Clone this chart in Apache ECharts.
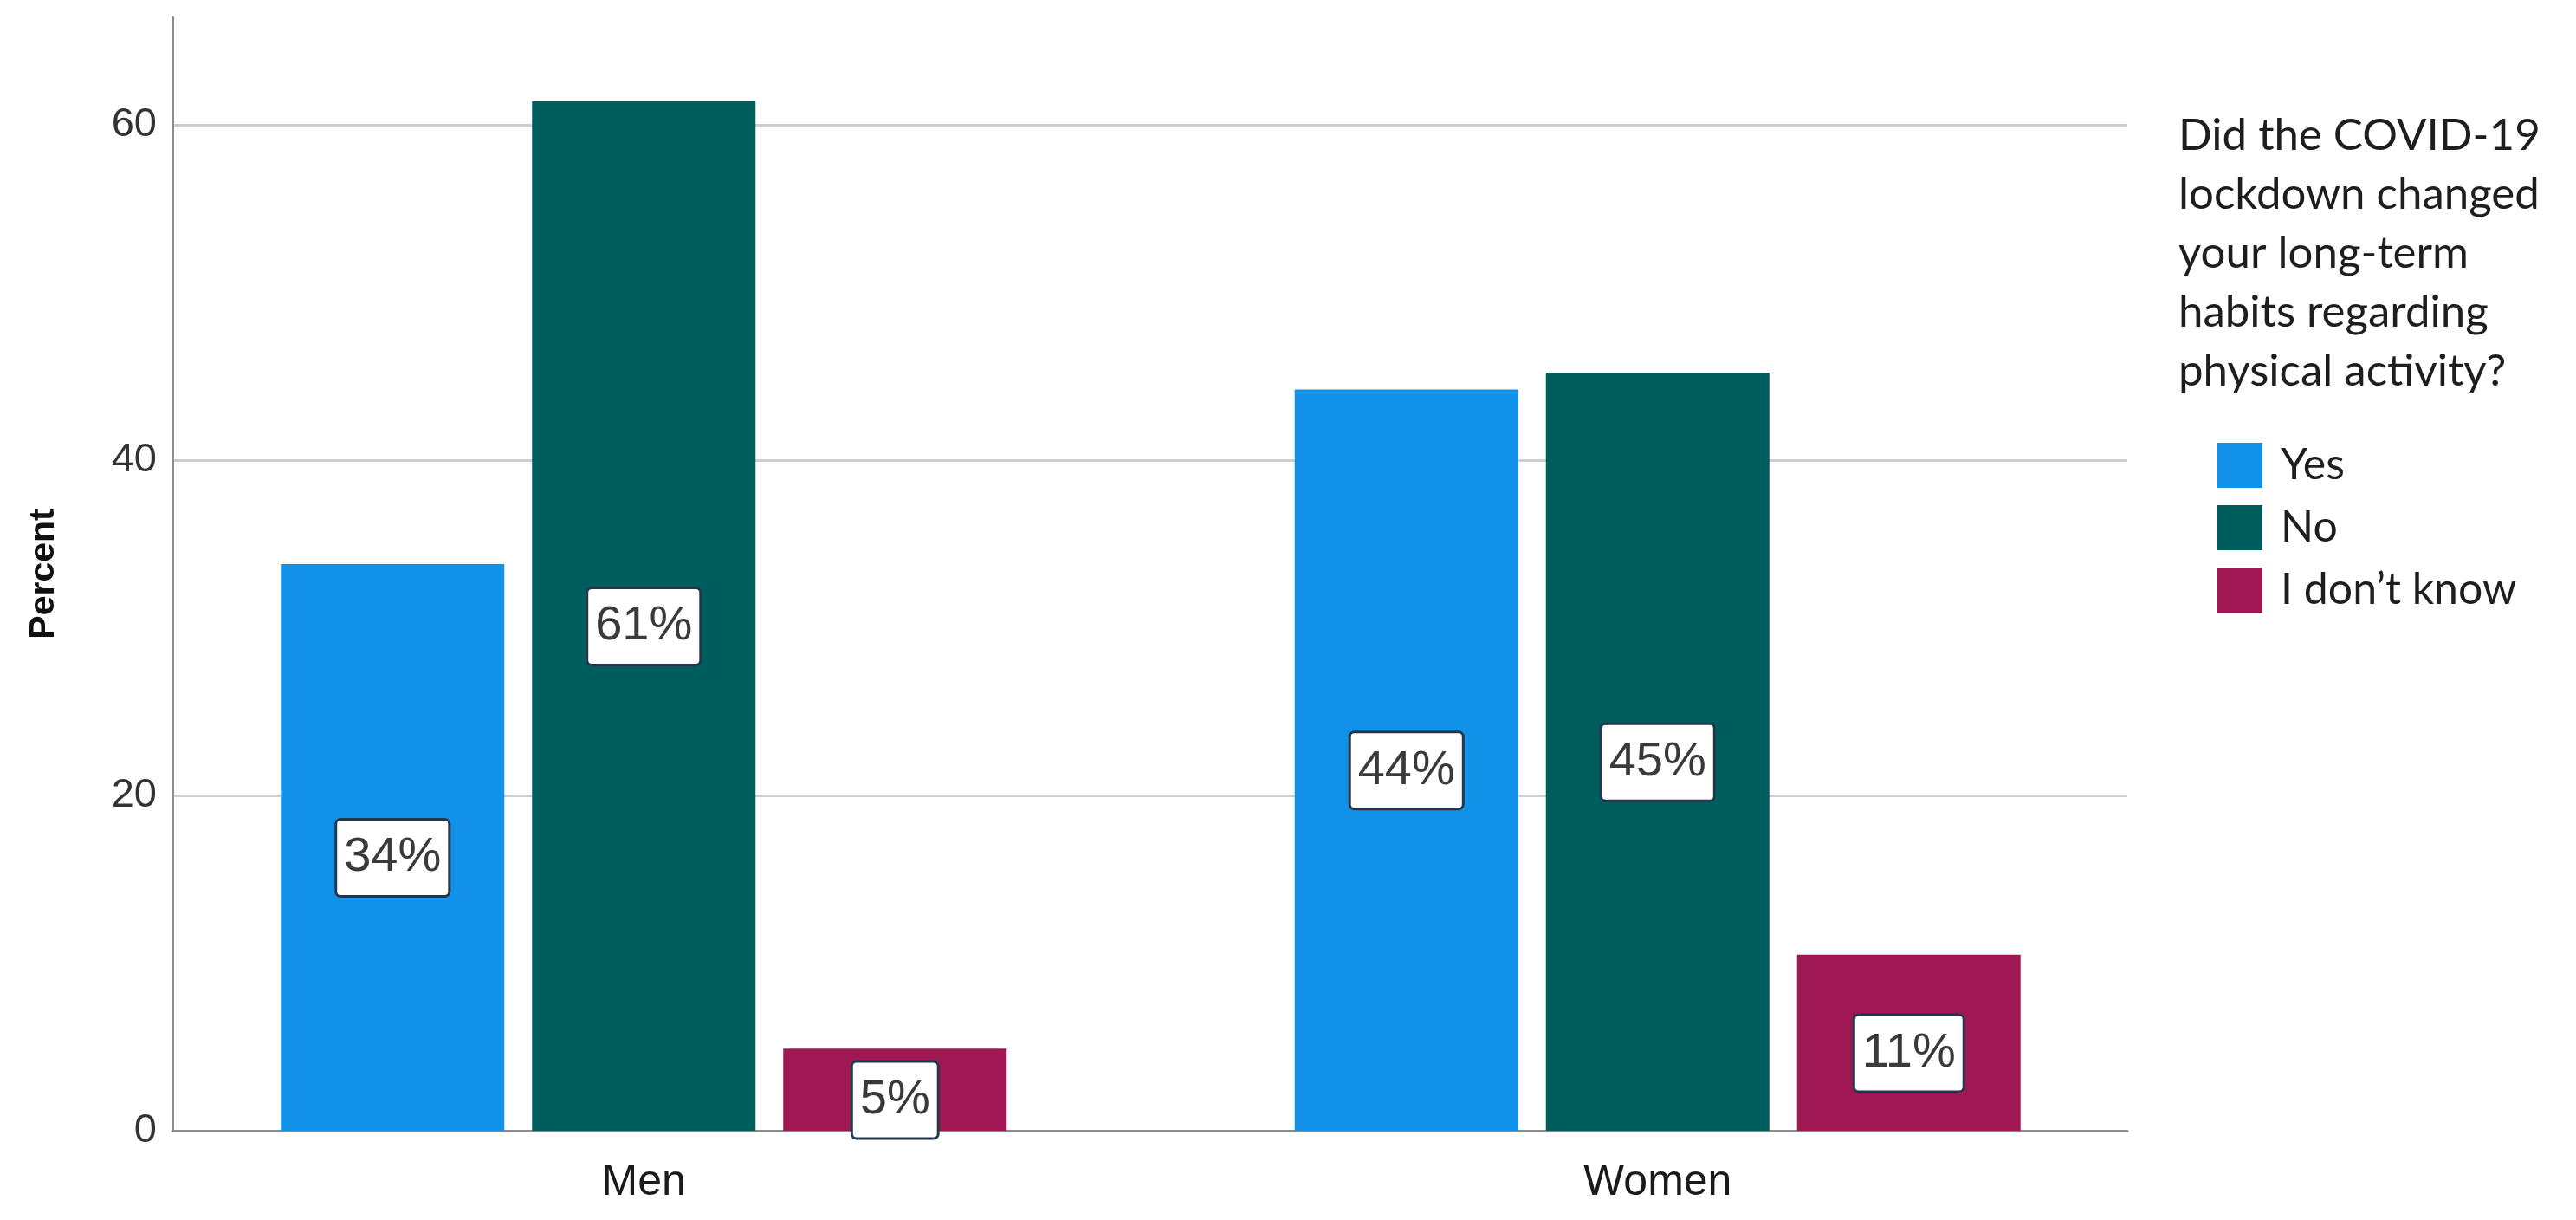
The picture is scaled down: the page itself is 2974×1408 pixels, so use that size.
<!DOCTYPE html>
<html>
<head>
<meta charset="utf-8">
<script src="https://cdn.jsdelivr.net/npm/echarts@6/dist/echarts.min.js"></script>
<style>
html,body{margin:0;padding:0;background:#fff;}
#chart{width:2974px;height:1408px;}
</style>
</head>
<body>
<div id="chart"></div>
<script>
// ---- data ----
const categories = ['Men', 'Women'];
const seriesNames = ['Yes', 'No', 'I don\u2019t know'];
const yesValues = [33.8, 44.2];
const noValues = [61.4, 45.2];
const dontKnowValues = [4.9, 10.5];
const yTicks = [0, 20, 40, 60];
const legendTitle = 'Did the COVID-19\nlockdown changed\nyour long-term\nhabits regarding\nphysical activity?';
const yAxisTitle = 'Percent';

// ---- styling ----
const colors = ['#1192e8', '#005d5d', '#9f1853'];
const yMax = 66.4;
const labelStyle = {
  show: true,
  position: 'inside',
  offset: [0, 12],
  formatter: p => Math.round(p.value) + '%',
  backgroundColor: '#ffffff',
  borderColor: '#24364a',
  borderWidth: 3,
  borderRadius: 4,
  padding: [13, 8, 11, 8],
  color: '#3a3a3a',
  fontFamily: 'Liberation Sans, Arial, sans-serif',
  fontSize: 56,
  lineHeight: 62
};

const chart = echarts.init(document.getElementById('chart'), null, {renderer: 'canvas'});
const values = [yesValues, noValues, dontKnowValues];

chart.setOption({
  animation: false,
  backgroundColor: '#ffffff',
  title: {
    text: legendTitle,
    left: 2510,
    top: 118,
    textStyle: {
      fontFamily: 'Lato, "Open Sans", sans-serif',
      fontWeight: 'normal',
      fontSize: 51,
      lineHeight: 68,
      color: '#1e1e1e'
    }
  },
  legend: {
    orient: 'vertical',
    left: 2555,
    top: 506,
    icon: 'rect',
    itemWidth: 52,
    itemHeight: 52,
    itemGap: 20,
    data: seriesNames,
    textStyle: {
      fontFamily: 'Lato, "Open Sans", sans-serif',
      fontSize: 50,
      color: '#1e1e1e',
      padding: [0, 0, 0, 16]
    }
  },
  grid: [
    {left: 199, right: 518, top: 20, bottom: 103},
    {left: 158, right: 475, top: 20, bottom: 103}
  ],
  xAxis: [
    {
      gridIndex: 0, type: 'value', min: 0, max: 1,
      axisLine: {show: true, lineStyle: {color: '#8c8c8c', width: 3}},
      axisTick: {show: false}, axisLabel: {show: false}, splitLine: {show: false}
    },
    {
      gridIndex: 1, type: 'category', data: categories,
      axisLine: {show: false}, axisTick: {show: false},
      axisLabel: {
        margin: 35,
        fontFamily: 'Liberation Sans, Arial, sans-serif',
        fontSize: 50,
        color: '#1a1a1a'
      }
    }
  ],
  yAxis: [
    {
      gridIndex: 0, type: 'value', min: 0, max: yMax, interval: 20,
      name: yAxisTitle, nameLocation: 'middle', nameRotate: 90, nameGap: 128,
      nameTextStyle: {
        fontFamily: 'Liberation Sans, Arial, sans-serif',
        fontWeight: 'bold', fontSize: 41, color: '#111'
      },
      axisLine: {show: true, lineStyle: {color: '#8c8c8c', width: 3}},
      axisTick: {show: false},
      axisLabel: {
        margin: 18,
        showMaxLabel: false,
        formatter: v => (yTicks.indexOf(v) >= 0 ? String(v) : ''),
        fontFamily: 'Liberation Sans, Arial, sans-serif',
        fontSize: 47,
        color: '#333'
      },
      splitLine: {show: true, showMaxLine: false, showMinLine: false, lineStyle: {color: '#cfcfcf', width: 3}}
    },
    {
      gridIndex: 1, type: 'value', min: 0, max: yMax, interval: 20, show: false,
      splitLine: {show: false}
    }
  ],
  series: seriesNames.map((name, i) => ({
    name: name,
    type: 'bar',
    xAxisIndex: 1,
    yAxisIndex: 1,
    data: values[i],
    barWidth: 258,
    barGap: '12.4%',
    itemStyle: {color: colors[i]},
    label: labelStyle,
    z: 3
  }))
});
</script>
</body>
</html>
